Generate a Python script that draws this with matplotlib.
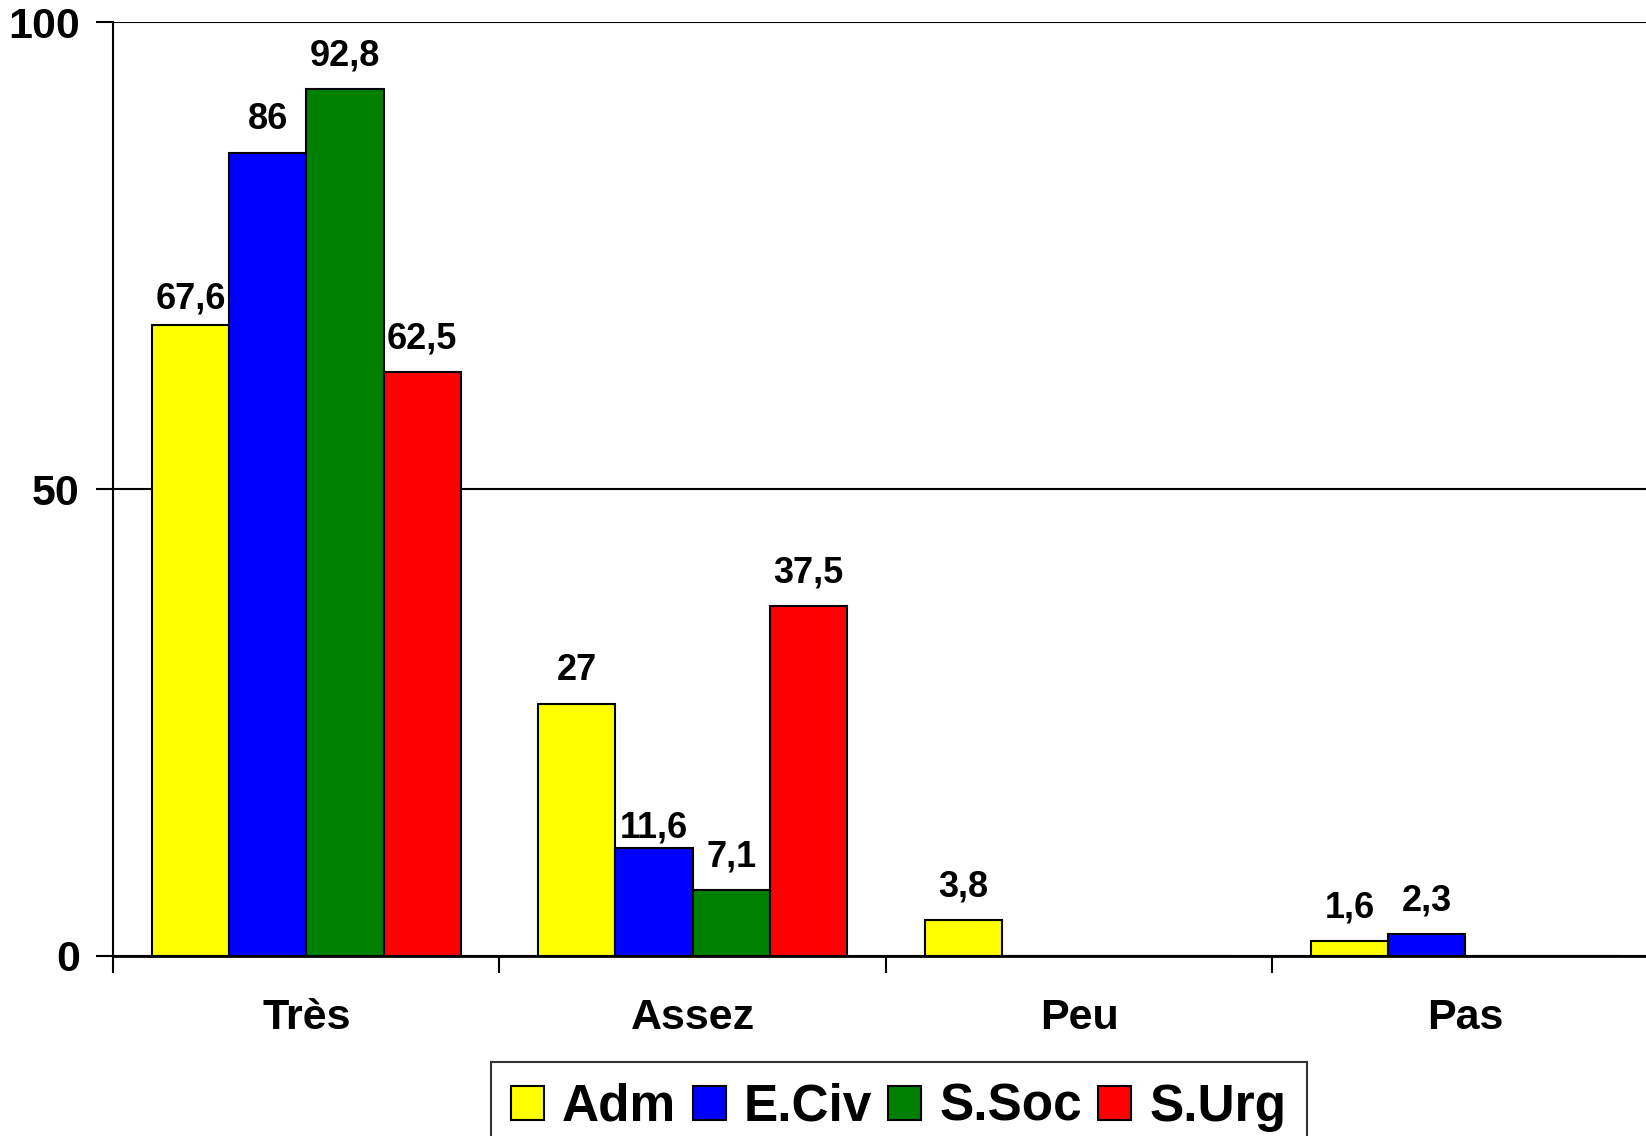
import matplotlib
matplotlib.use("Agg")
import matplotlib.pyplot as plt
import numpy as np

plt.rcParams['font.family'] = ['Liberation Sans', 'DejaVu Sans']
plt.rcParams['font.weight'] = 'bold'

# answer categories and one series per service
categories = ['Très', 'Assez', 'Peu', 'Pas']
series_names = ['Adm', 'E.Civ', 'S.Soc', 'S.Urg']
adm = [67.6, 27, 3.8, 1.6]
eciv = [86, 11.6, 0, 2.3]
ssoc = [92.8, 7.1, 0, 0]
surg = [62.5, 37.5, 0, 0]
colors = ['#FFFF00', '#0000FF', '#008000', '#FF0000']

# a couple of labels sit a little lower so they don't collide
label_nudge = {('Adm', 0): -7, ('E.Civ', 1): -13}

fig = plt.figure(figsize=(16.46, 11.36), dpi=100)
# the plot area runs past the right edge of the figure
ax = fig.add_axes([0.0687, 0.1585, 0.939, 0.822])

x = np.arange(len(categories))
width = 0.2
all_series = [adm, eciv, ssoc, surg]
for i, (name, vals) in enumerate(zip(series_names, all_series)):
    pos = x - 0.3 + i * width
    ax.bar(pos, vals, width, color=colors[i], edgecolor='black',
           linewidth=1.5, label=name, zorder=3)
    for j, v in enumerate(vals):
        if v == 0:
            continue
        txt = f'{v:g}'.replace('.', ',')
        off = 33 + label_nudge.get((name, j), 0)
        ax.annotate(txt, (pos[j], v), xytext=(0, off),
                    textcoords='offset pixels', ha='center', va='center',
                    fontsize=26, fontweight='bold', zorder=4)

ax.set_xlim(-0.5, 3.5)
ax.set_ylim(0, 100)
ax.set_yticks([0, 50, 100])
ax.set_yticklabels(['0', '50', '100'])
ax.yaxis.grid(True, color='black', linewidth=1.5)
ax.set_axisbelow(True)

# boundaries get the tick marks, centres get the names
ax.set_xticks(np.arange(-0.5, 4, 1))
ax.set_xticklabels([])
ax.set_xticks(x, minor=True)
ax.set_xticklabels(categories, minor=True)
ax.tick_params(axis='x', which='major', length=12, width=1.5, direction='out')
ax.tick_params(axis='x', which='minor', length=0, pad=30, labelsize=31)
ax.tick_params(axis='y', length=12, width=1.5, direction='out', pad=12,
               labelsize=31)

for s in ['top', 'right']:
    ax.spines[s].set_visible(False)
ax.spines['left'].set_linewidth(1.5)
ax.spines['bottom'].set_linewidth(2)

leg = fig.legend(loc='upper center', bbox_to_anchor=(0.546, 0.0651), ncol=4,
                 fontsize=37, frameon=True, fancybox=False, edgecolor='black',
                 handlelength=0.64, handleheight=0.64, handletextpad=0.35,
                 columnspacing=0.32, borderpad=0.4, borderaxespad=0)
leg.get_frame().set_linewidth(1.5)
for t in leg.get_texts():
    t.set_fontweight('bold')

fig.savefig('out.png', dpi=100)
